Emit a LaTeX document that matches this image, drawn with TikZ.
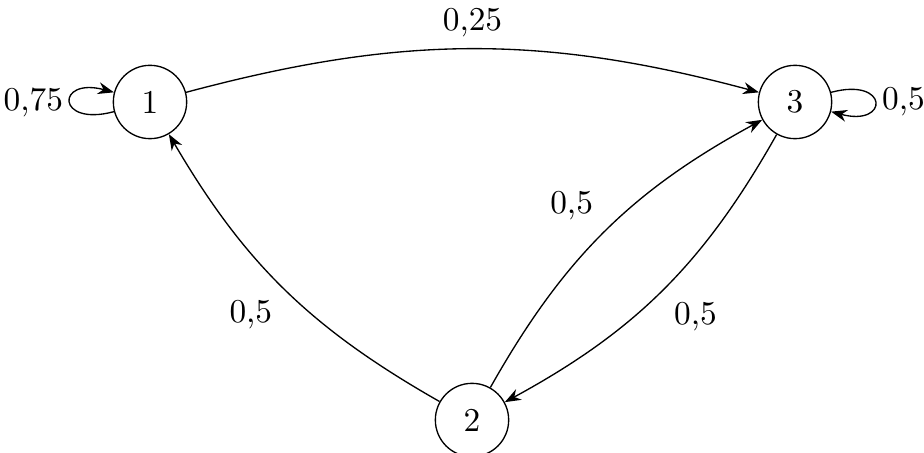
\documentclass[tikz,border=0pt]{standalone}
\usepackage{amsmath,amssymb}
\usepackage{tikz}
\usetikzlibrary{arrows.meta,positioning}

\begin{document}
\begin{tikzpicture}[
  node distance=2cm, on grid,
  state/.style={draw, circle, minimum size=22pt, inner sep=0pt},
  arrow/.style={-Stealth},
  every loop/.style={-Stealth, min distance=6.2mm}
]
\useasboundingbox (0,0) rectangle (277.2pt,-135.9pt);
\node[state] (s1) at (45pt,-30.6pt) {1};
\node[state, right=193.5pt of s1] (s3) {3};
\node[state, below right=95.4pt and 96.6pt of s1] (s2) {2};
\draw[arrow] (s1) edge[loop left] node[inner sep=2pt] {0,75} (s1);
\draw[arrow] (s3) edge[loop right] node[inner sep=2pt] {0,5} (s3);
\draw[arrow] (s1) to[bend left=15] node[auto] {0,25} (s3);
\draw[arrow] (s2) to[bend left=15] node[auto] {0,5} (s1);
\draw[arrow] (s2) to[bend left=16] node[auto] {0,5} (s3);
\draw[arrow] (s3) to[bend left=16] node[auto] {0,5} (s2);
\end{tikzpicture}
\end{document}
